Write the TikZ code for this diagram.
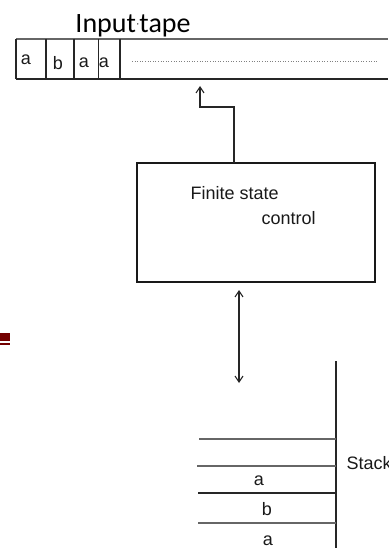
\documentclass[tikz,border=0pt]{standalone}
\usepackage{fontspec}
\setmainfont{Liberation Sans}
\newfontfamily\calibri{Carlito}
\usetikzlibrary{arrows.meta}

\begin{document}
\begin{tikzpicture}[x=1pt, y=-1pt,
    line width=1.1pt,
    arr/.style={-{Straight Barb[length=6pt, width=8pt]}, gray!30!black},
    sym/.style={font=\fontsize{18}{20}\selectfont, text=black!90, inner sep=0pt, anchor=base},
    edge/.style={gray!30!black},
    faint/.style={gray!80!black}]
  \useasboundingbox (0,0) rectangle (388,548);
  \clip (0,0) rectangle (388,548);
  % tape
  \node[font=\calibri\fontsize{28}{30}\selectfont, inner sep=0pt, anchor=base] (title)
    at (133,33) {Input\raisebox{5pt}{\scalebox{0.5}{$\cdot$}}tape};
  \draw[faint] (16,39) -- (388,39);
  \draw[edge] (16,79) -- (388,79);
  \foreach \x in {16,46,74,98.5,120}
    \draw[edge] (\x,39) -- (\x,79);
  \node[sym] (t1) at (26,65) {a};
  \node[sym] (t2) at (58,70) {b};
  \node[sym] (t3) at (84,68) {a};
  \node[sym] (t4) at (104,68) {a};
  \draw[gray, line width=0.6pt, dotted] (132,61) -- (378,61);
  \coordinate (head) at (200,86);
  % control box
  \node[draw, line width=1.3pt, gray!20!black, minimum width=238pt, minimum height=119pt,
    inner sep=0pt] (fsc) at (256,222.5) {};
  \node[sym, anchor=base west] (fs) at (190,199) {Finite state};
  \node[sym, anchor=base west] (ctl) at (261,224) {control};
  \coordinate (link) at (234,163);
  \draw[arr] (link) -- ++(0,-56) -| (head);
  % stack
  \coordinate (up) at (239,290);
  \coordinate (down) at (239,383);
  \draw[arr, {Straight Barb[length=6pt, width=8pt]}-{Straight Barb[length=6pt, width=8pt]}] (up) -- (down);
  \draw[edge] (336,361) -- (336,548);
  \draw[faint] (199,439) -- (336,439);
  \draw[faint] (197,466) -- (336,466);
  \draw[edge] (198,493) -- (336,493);
  \draw[faint] (198,523) -- (336,523);
  \node[sym] (s1) at (259,485) {a};
  \node[sym] (s2) at (267,515) {b};
  \node[sym] (s3) at (268,545) {a};
  \node[sym, anchor=base west] (stk) at (346,469) {Stack};
  % slide mark
  \fill[red!45!black] (0,333) rectangle (10,341);
  \fill[red!45!black] (0,343) rectangle (10,345);
\end{tikzpicture}
\end{document}
